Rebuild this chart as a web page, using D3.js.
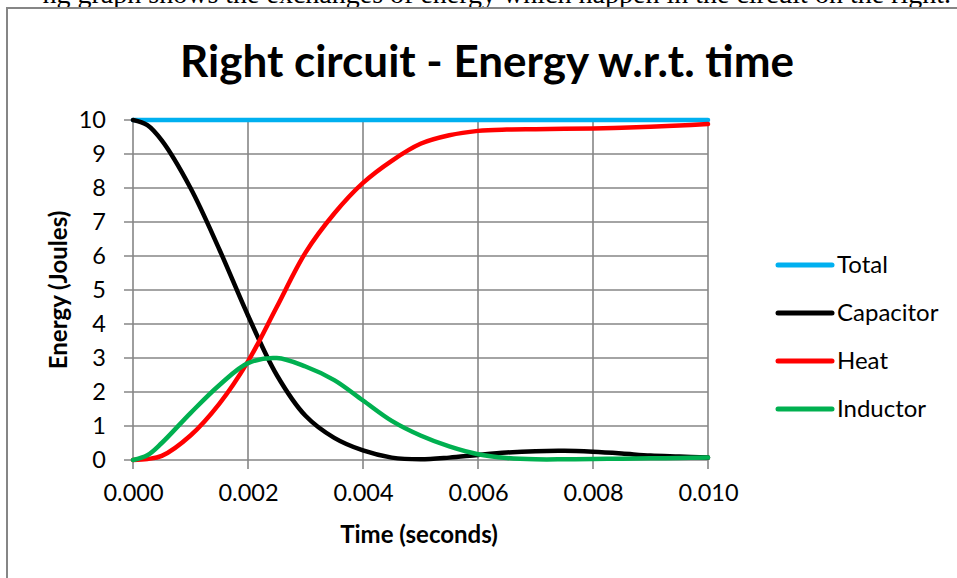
<!DOCTYPE html>
<html>
<head>
<meta charset="utf-8">
<script src="https://cdn.jsdelivr.net/npm/d3@7"></script>
<style>
  body { margin: 0; background: #fff; overflow: hidden; }
  text { font-family: Lato, "Open Sans", sans-serif; }
</style>
</head>
<body>
<div id="chart"></div>
<script>
// time samples (seconds)
var times = [0, 0.00025, 0.0005, 0.001, 0.0015, 0.002, 0.0025, 0.003, 0.0035, 0.004, 0.0045,
  0.005, 0.0055, 0.006, 0.0065, 0.007, 0.0075, 0.008, 0.0085, 0.009, 0.0095, 0.01];

// energy values (Joules)
var total     = [10, 10, 10, 10, 10, 10, 10, 10, 10, 10, 10, 10, 10, 10, 10, 10, 10, 10, 10, 10, 10, 10];
var capacitor = [10, 9.85, 9.4, 8.0, 6.2, 4.25, 2.5, 1.3, 0.65, 0.28, 0.07, 0.02, 0.07, 0.15, 0.22, 0.26, 0.27, 0.24, 0.19, 0.13, 0.1, 0.07];
var heat      = [0, 0.03, 0.12, 0.72, 1.65, 2.9, 4.5, 6.1, 7.25, 8.15, 8.8, 9.3, 9.55, 9.68, 9.72, 9.73, 9.74, 9.75, 9.77, 9.8, 9.84, 9.88];
var inductor  = [0, 0.14, 0.5, 1.38, 2.2, 2.85, 3.0, 2.75, 2.35, 1.75, 1.15, 0.72, 0.4, 0.17, 0.06, 0.02, 0.02, 0.03, 0.04, 0.05, 0.06, 0.07];

var seriesNames = ["Total", "Capacitor", "Heat", "Inductor"];
var seriesValues = [total, capacitor, heat, inductor];
var seriesColors = ["#00b0f0", "#000000", "#ff0000", "#00b050"];

var xTicks = [0, 0.002, 0.004, 0.006, 0.008, 0.010];
var yTicks = [0, 1, 2, 3, 4, 5, 6, 7, 8, 9, 10];

var W = 957, H = 578;
var gridColor = "#868686";

var svg = d3.select("#chart").append("svg")
    .attr("width", W)
    .attr("height", H);

// sentence above the chart, cut by the page edge as in the source
svg.append("text")
    .attr("x", 951)
    .attr("y", 3)
    .attr("text-anchor", "end")
    .style("font-family", "'Liberation Serif', 'DejaVu Serif', serif")
    .style("font-size", "28px")
    .text("ng graph shows the exchanges of energy which happen in the circuit on the right.");

// chart frame
svg.append("rect")
    .attr("x", 7)
    .attr("y", 8)
    .attr("width", 1000)
    .attr("height", 700)
    .attr("fill", "none")
    .attr("stroke", gridColor)
    .attr("stroke-width", 2);

// scales
var x = d3.scaleLinear().domain([0, 0.01]).range([133, 708]);
var y = d3.scaleLinear().domain([0, 10]).range([460, 120]);

// gridlines
var grid = svg.append("g");
grid.selectAll(".hgrid")
    .data(yTicks)
  .enter().append("line")
    .attr("x1", x(0) - 9).attr("x2", x(0.01))
    .attr("y1", function(d) { return y(d); })
    .attr("y2", function(d) { return y(d); })
    .attr("stroke", gridColor)
    .attr("stroke-width", 1.6);

grid.selectAll(".vgrid")
    .data(xTicks)
  .enter().append("line")
    .attr("x1", function(d) { return x(d); })
    .attr("x2", function(d) { return x(d); })
    .attr("y1", y(10)).attr("y2", y(0) + 9)
    .attr("stroke", gridColor)
    .attr("stroke-width", 1.6);

// axes (labels only, gridlines drawn above)
var axisX = d3.axisBottom(x)
    .tickValues(xTicks)
    .tickFormat(d3.format(".3f"))
    .tickSize(0)
    .tickPadding(24);
var groupX = svg.append("g")
    .attr("transform", "translate(0," + y(0) + ")")
    .call(axisX);

var axisY = d3.axisLeft(y)
    .tickValues(yTicks)
    .tickFormat(d3.format("d"))
    .tickSize(0)
    .tickPadding(27);
var groupY = svg.append("g")
    .attr("transform", "translate(" + x(0) + ",0)")
    .call(axisY);

[groupX, groupY].forEach(function(g) {
  g.select(".domain").remove();
  g.selectAll("text")
    .style("font-family", "Lato, sans-serif")
    .style("font-size", "23.5px")
    .attr("fill", "#000");
});

// series lines
var line = d3.line()
    .x(function(d, i) { return x(times[i]); })
    .y(function(d) { return y(d); })
    .curve(d3.curveCatmullRom.alpha(0.5));

svg.append("g").selectAll("path")
    .data(seriesValues)
  .enter().append("path")
    .attr("d", line)
    .attr("fill", "none")
    .attr("stroke", function(d, i) { return seriesColors[i]; })
    .attr("stroke-width", 4.5)
    .attr("stroke-linecap", "round")
    .attr("stroke-linejoin", "round");

// title
svg.append("text")
    .attr("x", 487)
    .attr("y", 77)
    .attr("text-anchor", "middle")
    .style("font-weight", "bold")
    .style("font-size", "44px")
    .text("Right circuit - Energy w.r.t. time");

// axis titles
svg.append("text")
    .attr("x", 419)
    .attr("y", 543)
    .attr("text-anchor", "middle")
    .style("font-weight", "bold")
    .style("font-size", "24px")
    .text("Time (seconds)");

svg.append("text")
    .attr("transform", "translate(67,290) rotate(-90)")
    .attr("text-anchor", "middle")
    .style("font-weight", "bold")
    .style("font-size", "24px")
    .text("Energy (Joules)");

// legend
var legendY = d3.scalePoint().domain(seriesNames).range([265, 409]);
var legend = svg.append("g").selectAll("g")
    .data(seriesNames)
  .enter().append("g")
    .attr("transform", function(d) { return "translate(778," + legendY(d) + ")"; });

legend.append("line")
    .attr("x1", 0).attr("x2", 54)
    .attr("stroke", function(d, i) { return seriesColors[i]; })
    .attr("stroke-width", 5)
    .attr("stroke-linecap", "round");

legend.append("text")
    .attr("x", 59)
    .attr("dy", "0.35em")
    .style("font-size", "24px")
    .text(function(d) { return d; });
</script>
</body>
</html>
